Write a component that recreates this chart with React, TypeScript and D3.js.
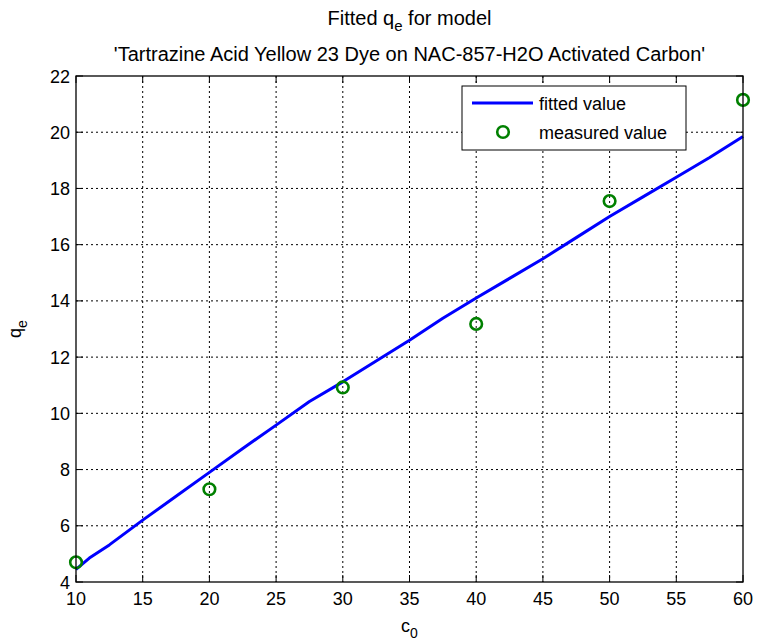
import React from "react";
import { scaleLinear, line, range } from "d3";

// measured points
const measuredC0 = [10, 20, 30, 40, 50, 60];
const measuredQe = [4.7, 7.3, 10.92, 13.18, 17.55, 21.15];

// fitted curve
const fittedC0 = [10, 11, 12.5, 15, 17.5, 20, 22.5, 25, 27.5, 30, 32.5, 35, 37.5, 40, 42.5, 45, 47.5, 50, 52.5, 55, 57.5, 60];
const fittedQe = [4.45, 4.85, 5.32, 6.2, 7.05, 7.9, 8.75, 9.58, 10.42, 11.12, 11.86, 12.6, 13.38, 14.1, 14.8, 15.5, 16.25, 17.0, 17.7, 18.4, 19.1, 19.85];

const xTicks = range(10, 61, 5);
const yTicks = range(4, 23, 2);

const W = 766;
const H = 642;
const plot = { left: 76, right: 743, top: 76, bottom: 582 };
const font = "'Liberation Sans', Arial, Helvetica, sans-serif";

export default function App() {
  const x = scaleLinear().domain([10, 60]).range([plot.left, plot.right]);
  const y = scaleLinear().domain([4, 22]).range([plot.bottom, plot.top]);

  const fitted = fittedC0.map((c, i) => [c, fittedQe[i]] as [number, number]);
  const path = line<[number, number]>()
    .x((d) => x(d[0]))
    .y((d) => y(d[1]))(fitted);

  const tick = 7;
  const midX = (plot.left + plot.right) / 2;

  return (
    <svg
      width={W}
      height={H}
      style={{ position: "absolute", left: 0, top: 0, background: "#fff" }}
      fontFamily={font}
    >
      <rect x={0} y={0} width={W} height={H} fill="#fff" />

      {/* grid */}
      {xTicks.slice(1, -1).map((t) => (
        <line key={"gx" + t} x1={x(t)} x2={x(t)} y1={plot.top} y2={plot.bottom}
          stroke="#000" strokeWidth={1} strokeDasharray="2,3" />
      ))}
      {yTicks.slice(1, -1).map((t) => (
        <line key={"gy" + t} x1={plot.left} x2={plot.right} y1={y(t)} y2={y(t)}
          stroke="#000" strokeWidth={1} strokeDasharray="2,3" />
      ))}

      {/* ticks */}
      {xTicks.map((t) => (
        <g key={"tx" + t}>
          <line x1={x(t)} x2={x(t)} y1={plot.bottom} y2={plot.bottom - tick} stroke="#000" />
          <line x1={x(t)} x2={x(t)} y1={plot.top} y2={plot.top + tick} stroke="#000" />
          <text x={x(t)} y={plot.bottom + 23} fontSize={18} textAnchor="middle" fill="#000">{t}</text>
        </g>
      ))}
      {yTicks.map((t) => (
        <g key={"ty" + t}>
          <line x1={plot.left} x2={plot.left + tick} y1={y(t)} y2={y(t)} stroke="#000" />
          <line x1={plot.right} x2={plot.right - tick} y1={y(t)} y2={y(t)} stroke="#000" />
          <text x={plot.left - 6} y={y(t) + 6.5} fontSize={18} textAnchor="end" fill="#000">{t}</text>
        </g>
      ))}

      {/* data */}
      <path d={path ?? ""} fill="none" stroke="#0000ff" strokeWidth={3} strokeLinejoin="round" />
      {measuredC0.map((c, i) => (
        <circle key={"m" + i} cx={x(c)} cy={y(measuredQe[i])} r={5.8}
          fill="none" stroke="#008000" strokeWidth={2.6} />
      ))}

      {/* axes box */}
      <rect x={plot.left} y={plot.top} width={plot.right - plot.left} height={plot.bottom - plot.top}
        fill="none" stroke="#000" strokeWidth={1.3} />

      {/* legend */}
      <g>
        <rect x={462} y={86} width={224} height={64} fill="#fff" stroke="#000" strokeWidth={1} />
        <line x1={472} x2={533} y1={103} y2={103} stroke="#0000ff" strokeWidth={3} />
        <text x={539} y={109.5} fontSize={18} fill="#000">fitted value</text>
        <circle cx={503} cy={132} r={5.8} fill="none" stroke="#008000" strokeWidth={2.6} />
        <text x={539} y={138.5} fontSize={18} fill="#000">measured value</text>
      </g>

      {/* titles */}
      <text x={midX} y={25} fontSize={20} textAnchor="middle" fill="#000">
        Fitted q<tspan fontSize={15} dy={6}>e</tspan>
        <tspan dy={-6}> for model</tspan>
      </text>
      <text x={midX} y={61} fontSize={20} textAnchor="middle" fill="#000">
        'Tartrazine Acid Yellow 23 Dye on NAC-857-H2O Activated Carbon'
      </text>

      {/* axis labels */}
      <text x={midX} y={632} fontSize={18} textAnchor="middle" fill="#000">
        c<tspan fontSize={14} dy={6}>0</tspan>
      </text>
      <text transform={`translate(21,${(plot.top + plot.bottom) / 2}) rotate(-90)`} fontSize={18}
        textAnchor="middle" fill="#000">
        q<tspan fontSize={14} dy={6}>e</tspan>
      </text>
    </svg>
  );
}
